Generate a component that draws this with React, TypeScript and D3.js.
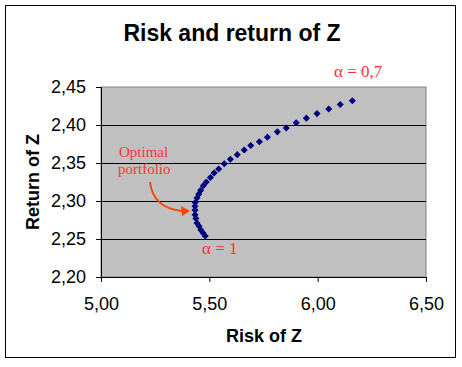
import React, { useEffect, useRef } from 'react';
import * as d3 from 'd3';

// risk (x) and return (y) of Z, from alpha = 0,7 (top) down to alpha = 1 (bottom)
const risk = [
  6.16, 6.104, 6.051, 5.997, 5.948, 5.901, 5.855, 5.814, 5.768, 5.731, 5.691,
  5.661, 5.629, 5.597, 5.569, 5.543, 5.522, 5.505, 5.486, 5.472, 5.46, 5.451,
  5.443, 5.435, 5.434, 5.434, 5.434, 5.438, 5.443, 5.452, 5.461, 5.471, 5.481,
];
const ret = [
  2.432, 2.427, 2.421, 2.415, 2.409, 2.403, 2.396, 2.391, 2.384, 2.378, 2.373,
  2.367, 2.361, 2.355, 2.349, 2.342, 2.337, 2.331, 2.325, 2.32, 2.314, 2.309,
  2.304, 2.298, 2.293, 2.288, 2.282, 2.277, 2.271, 2.267, 2.262, 2.258, 2.254,
];
const xTicks = [5.0, 5.5, 6.0, 6.5];
const yTicks = [2.2, 2.25, 2.3, 2.35, 2.4, 2.45];

const fmt = (v: number) => v.toFixed(2).replace('.', ',');

export default function App() {
  const ref = useRef<SVGSVGElement>(null);

  useEffect(() => {
    const width = 462;
    const height = 367;
    const margin = { top: 87, right: 36, bottom: 90, left: 101 };
    const svg = d3.select(ref.current);
    svg.selectAll('*').remove();

    const x = d3.scaleLinear().domain([5, 6.5]).range([margin.left, width - margin.right]);
    const y = d3.scaleLinear().domain([2.2, 2.45]).range([height - margin.bottom, margin.top]);

    svg.append('rect')
      .attr('x', 5.5).attr('y', 5.5).attr('width', 450).attr('height', 352)
      .attr('fill', 'white').attr('stroke', 'black');

    svg.append('rect')
      .attr('x', x(5)).attr('y', y(2.45))
      .attr('width', x(6.5) - x(5)).attr('height', y(2.2) - y(2.45))
      .attr('fill', '#c0c0c0').attr('stroke', '#808080');

    svg.append('g')
      .selectAll('line')
      .data(yTicks.slice(1, -1))
      .join('line')
      .attr('x1', x(5)).attr('x2', x(6.5))
      .attr('y1', (d) => Math.round(y(d)) + 0.5).attr('y2', (d) => Math.round(y(d)) + 0.5)
      .attr('stroke', 'black');

    const xAxis = (g: any) =>
      g.attr('transform', `translate(0,${y(2.2)})`)
        .call(d3.axisBottom(x).tickValues(xTicks).tickFormat((d: any) => fmt(d)).tickSize(5).tickPadding(15))
        .call((g: any) => g.select('.domain').attr('stroke', 'black'))
        .call((g: any) => g.selectAll('text').attr('fill', 'black').attr('font-size', 18));
    const yAxis = (g: any) =>
      g.attr('transform', `translate(${x(5)},0)`)
        .call(d3.axisLeft(y).tickValues(yTicks).tickFormat((d: any) => fmt(d)).tickSize(5).tickPadding(10))
        .call((g: any) => g.select('.domain').attr('stroke', 'black'))
        .call((g: any) => g.selectAll('text').attr('fill', 'black').attr('font-size', 18));

    svg.append('g').attr('font-family', 'Liberation Sans, Arial').call(xAxis);
    svg.append('g').attr('font-family', 'Liberation Sans, Arial').call(yAxis);

    svg.append('g')
      .attr('fill', '#000080')
      .selectAll('path')
      .data(risk.map((r, i) => [r, ret[i]]))
      .join('path')
      .attr('d', d3.symbol().type(d3.symbolSquare).size(25))
      .attr('transform', (d) => `translate(${x(d[0])},${y(d[1])}) rotate(45)`);

    svg.append('text')
      .attr('x', 232).attr('y', 41)
      .attr('text-anchor', 'middle')
      .attr('font-family', 'Liberation Sans, Arial')
      .attr('font-weight', 'bold').attr('font-size', 23)
      .text('Risk and return of Z');

    svg.append('text')
      .attr('x', 264).attr('y', 342)
      .attr('text-anchor', 'middle')
      .attr('font-family', 'Liberation Sans, Arial')
      .attr('font-weight', 'bold').attr('font-size', 18)
      .text('Risk of Z');

    svg.append('text')
      .attr('transform', 'translate(39,182) rotate(-90)')
      .attr('text-anchor', 'middle')
      .attr('font-family', 'Liberation Sans, Arial')
      .attr('font-weight', 'bold').attr('font-size', 18)
      .text('Return of Z');

    const note = svg.append('g')
      .attr('fill', '#ff3333')
      .attr('font-family', 'Liberation Serif, Times New Roman')
      .attr('font-size', 17);
    note.append('text').attr('x', 334).attr('y', 77).text('α = 0,7');
    note.append('text').attr('x', 202).attr('y', 254).text('α = 1');
    note.append('text').attr('x', 119).attr('y', 157).attr('font-size', 15).text('Optimal');
    note.append('text').attr('x', 118).attr('y', 174).attr('font-size', 15).text('portfolio');

    svg.append('path')
      .attr('d', 'M150,182 Q153,208 182,211')
      .attr('fill', 'none').attr('stroke', '#ff4400').attr('stroke-width', 2);
    svg.append('path')
      .attr('d', 'M190,211 L181,206 L182,216 Z')
      .attr('fill', '#ff4400');
  }, []);

  return <svg ref={ref} width={462} height={367} style={{ position: 'absolute', left: 0, top: 0 }} />;
}
